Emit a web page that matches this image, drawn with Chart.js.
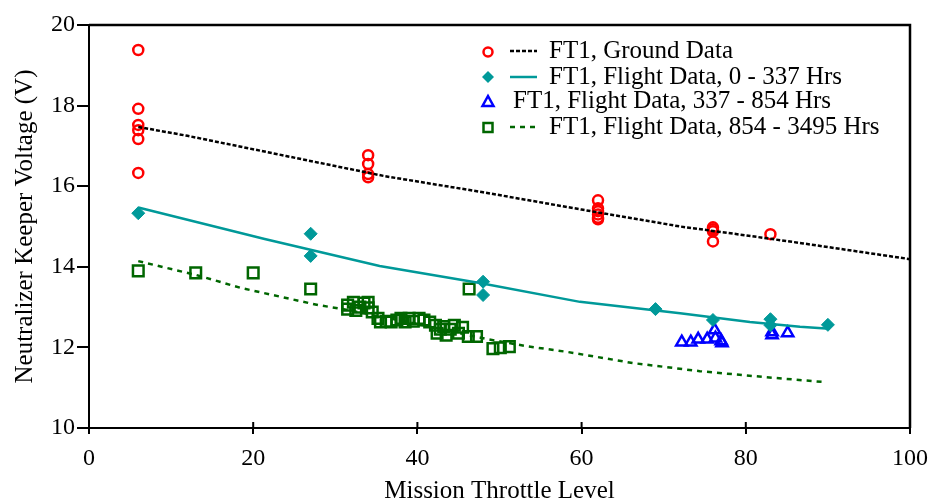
<!DOCTYPE html>
<html>
<head>
<meta charset="utf-8">
<script src="https://cdn.jsdelivr.net/npm/chart.js@4.4.1/dist/chart.umd.min.js"></script>
<style>
  html, body { margin: 0; padding: 0; background: #ffffff; }
  #wrap { width: 932px; height: 504px; }
</style>
</head>
<body>
<div id="wrap"><canvas id="c" width="932" height="504"></canvas></div>
<script>
// Ground test data (FT1)
const groundX = [6, 6, 6, 6, 6, 6, 34, 34, 34, 34, 62, 62, 62, 62, 62, 62, 76, 76, 76, 76, 83];
const groundY = [19.38, 17.92, 17.52, 17.39, 17.17, 16.33, 16.77, 16.55, 16.3, 16.22,
                 15.65, 15.45, 15.38, 15.3, 15.22, 15.18, 14.98, 14.93, 14.88, 14.63, 14.81];

// Flight data, 0 - 337 hrs
const flightAX = [6, 27, 27, 48, 48, 69, 76, 83, 83, 90];
const flightAY = [15.33, 14.82, 14.27, 13.63, 13.3, 12.95, 12.68, 12.7, 12.55, 12.56];

// Flight data, 337 - 854 hrs
const flightBX = [72.2, 73.3, 74.2, 75.3, 76.2, 76.3, 77.0, 77.1, 83.2, 83.2, 85.1];
const flightBY = [12.13, 12.13, 12.2, 12.2, 12.43, 12.23, 12.16, 12.11, 12.31, 12.38, 12.36];

// Flight data, 854 - 3495 hrs
const flightCX = [6, 13, 20, 27, 46.3,
                  31.5, 31.5, 32.2, 32.5, 33, 33.5, 34, 34, 34.5,
                  35.2, 35.5, 36.2, 36.8, 37.5, 38, 38.5, 39, 39.5, 40.2, 40.8, 41.5,
                  42.2, 42.4, 42.8, 43.2, 43.5, 44, 44.5, 45, 45.5, 46.2, 47.2,
                  49.2, 50.1, 51.2];
const flightCY = [13.9, 13.85, 13.85, 13.45, 13.45,
                  13.05, 12.95, 13.12, 12.92, 13.0, 13.1, 13.12, 12.98, 12.88,
                  12.72, 12.63, 12.65, 12.63, 12.68, 12.72, 12.63, 12.72, 12.65, 12.72, 12.68, 12.63,
                  12.55, 12.35, 12.45, 12.52, 12.3, 12.45, 12.55, 12.35, 12.5, 12.27, 12.27,
                  11.97, 11.99, 12.02];

// Trend curves
const groundFitX = [6, 12, 24, 36, 48, 60, 72, 80, 87, 100];
const groundFitY = [17.47, 17.25, 16.75, 16.25, 15.85, 15.42, 15.0, 14.78, 14.58, 14.19];
const flightAFitX = [6, 21.4, 35.4, 47.6, 59.8, 72, 80.5, 86.6, 90.2];
const flightAFitY = [15.47, 14.69, 14.02, 13.6, 13.13, 12.85, 12.63, 12.51, 12.46];
const flightCFitX = [6, 13, 18.6, 27.9, 31, 40, 48.6, 53.3, 58.2, 66.3, 74.4, 82.5, 89.6];
const flightCFitY = [14.14, 13.8, 13.47, 13.05, 12.95, 12.58, 12.2, 12.03, 11.89, 11.61, 11.41, 11.26, 11.14];

// Axis ticks
const xTicks = [0, 20, 40, 60, 80, 100];
const yTicks = [10, 12, 14, 16, 18, 20];

// Legend entries
const legendLabels = [
  'FT1, Ground Data',
  'FT1, Flight Data, 0 - 337 Hrs',
  'FT1, Flight Data, 337 - 854 Hrs',
  'FT1, Flight Data, 854 - 3495 Hrs'
];

const RED = '#ff0000', TEAL = '#009999', BLUE = '#0000ff', GREEN = '#006600';
const FONT = "'Liberation Serif', 'Times New Roman', serif";

const pts = (xs, ys) => xs.map((x, i) => ({ x: x, y: ys[i] }));

const lineSet = (xs, ys, color, width, dash) => ({
  data: pts(xs, ys),
  showLine: true,
  borderColor: color,
  borderWidth: width,
  borderDash: dash,
  pointRadius: 0,
  tension: 0,
  fill: false
});

const markerSet = (xs, ys, color, style, radius, filled, width) => ({
  data: pts(xs, ys),
  showLine: false,
  pointStyle: style,
  pointRadius: radius,
  pointBorderColor: color,
  pointBackgroundColor: filled ? color : 'rgba(0,0,0,0)',
  pointBorderWidth: width
});

// Frame (top/right border) and inner tick marks
const framePlugin = {
  id: 'frame',
  afterDraw(chart) {
    const { ctx, chartArea: a, scales } = chart;
    ctx.save();
    ctx.strokeStyle = '#000';
    ctx.lineWidth = 2.5;
    ctx.beginPath();
    ctx.moveTo(a.left, a.top);
    ctx.lineTo(a.right, a.top);
    ctx.lineTo(a.right, a.bottom);
    ctx.stroke();
    ctx.lineWidth = 2;
    ctx.beginPath();
    xTicks.forEach(v => {
      const px = scales.x.getPixelForValue(v);
      ctx.moveTo(px, a.bottom);
      ctx.lineTo(px, a.bottom - 6);
    });
    ctx.stroke();
    ctx.restore();
  }
};

// Legend: marker, line sample and label per row
const legendPlugin = {
  id: 'customLegend',
  afterDraw(chart) {
    const ctx = chart.ctx;
    const mx = 488, lx0 = 510, lx1 = 537, tx = 549;
    const rows = [51, 77, 101, 127];
    ctx.save();
    ctx.font = '25px ' + FONT;
    ctx.textBaseline = 'middle';
    ctx.fillStyle = '#000';

    // row 1: circle + dotted black
    let y = rows[0];
    ctx.strokeStyle = RED; ctx.lineWidth = 2.5;
    ctx.beginPath(); ctx.arc(mx, y + 1, 4.5, 0, Math.PI * 2); ctx.stroke();
    ctx.strokeStyle = '#000'; ctx.lineWidth = 2.5; ctx.setLineDash([4, 2]);
    ctx.beginPath(); ctx.moveTo(lx0, y); ctx.lineTo(lx1, y); ctx.stroke();
    ctx.setLineDash([]);
    ctx.fillText(legendLabels[0], tx, y);

    // row 2: diamond + solid teal
    y = rows[1];
    ctx.fillStyle = TEAL;
    ctx.beginPath();
    ctx.moveTo(mx, y - 6); ctx.lineTo(mx + 6, y); ctx.lineTo(mx, y + 6); ctx.lineTo(mx - 6, y);
    ctx.closePath(); ctx.fill();
    ctx.strokeStyle = TEAL; ctx.lineWidth = 2.5;
    ctx.beginPath(); ctx.moveTo(lx0, y); ctx.lineTo(lx1, y); ctx.stroke();
    ctx.fillStyle = '#000';
    ctx.fillText(legendLabels[1], tx, y);

    // row 3: triangle only
    y = rows[2];
    ctx.strokeStyle = BLUE; ctx.lineWidth = 2.5;
    ctx.beginPath();
    ctx.moveTo(mx, y - 5); ctx.lineTo(mx + 5.5, y + 5); ctx.lineTo(mx - 5.5, y + 5);
    ctx.closePath(); ctx.stroke();
    ctx.fillText(legendLabels[2], 513, y);

    // row 4: square + dashed green
    y = rows[3];
    ctx.strokeStyle = GREEN; ctx.lineWidth = 2.5;
    ctx.strokeRect(mx - 4.5, y - 4, 9, 9);
    ctx.lineWidth = 2.5; ctx.setLineDash([5, 5]);
    ctx.beginPath(); ctx.moveTo(lx0, y); ctx.lineTo(lx1 + 2, y); ctx.stroke();
    ctx.setLineDash([]);
    ctx.fillText(legendLabels[3], tx, y);
    ctx.restore();
  }
};

new Chart(document.getElementById('c'), {
  type: 'scatter',
  data: {
    datasets: [
      lineSet(groundFitX, groundFitY, '#000000', 2.5, [4, 2]),
      lineSet(flightAFitX, flightAFitY, TEAL, 2.5, []),
      lineSet(flightCFitX, flightCFitY, GREEN, 2.5, [5, 5]),
      markerSet(flightCX, flightCY, GREEN, 'rect', 7.5, false, 2.5),
      markerSet(flightAX, flightAY, TEAL, 'rectRot', 6.5, true, 1),
      markerSet(flightBX, flightBY, BLUE, 'triangle', 6.5, false, 2.5),
      markerSet(groundX, groundY, RED, 'circle', 5, false, 2.5)
    ]
  },
  options: {
    responsive: false,
    animation: false,
    events: [],
    layout: { padding: { top: 25, right: 22, left: 0, bottom: 0 } },
    plugins: { legend: { display: false }, tooltip: { enabled: false } },
    scales: {
      x: {
        type: 'linear', min: 0, max: 100,
        afterFit(s) { s.height = 76; s.paddingLeft = 0; s.paddingRight = 0; },
        afterBuildTicks(s) { s.ticks = xTicks.map(v => ({ value: v })); },
        grid: { display: true, drawOnChartArea: false, drawTicks: true, tickLength: 6, color: '#000', lineWidth: 2 },
        border: { display: true, color: '#000', width: 2 },
        ticks: { color: '#000', font: { family: FONT, size: 24 }, padding: 10, maxRotation: 0 },
        title: { display: true, text: 'Mission Throttle Level', color: '#000', font: { family: FONT, size: 25 }, padding: { top: 0, bottom: -2 } }
      },
      y: {
        type: 'linear', min: 10, max: 20,
        afterFit(s) { s.width = 89; },
        afterBuildTicks(s) { s.ticks = yTicks.map(v => ({ value: v })); },
        grid: { display: true, drawOnChartArea: false, drawTicks: true, tickLength: 12, color: '#000', lineWidth: 2 },
        border: { display: true, color: '#000', width: 2 },
        ticks: { color: '#000', font: { family: FONT, size: 24 }, padding: 2 },
        title: { display: true, text: 'Neutralizer Keeper Voltage (V)', color: '#000', font: { family: FONT, size: 25 }, padding: { top: 10, bottom: 0 } }
      }
    }
  },
  plugins: [framePlugin, legendPlugin]
});
</script>
</body>
</html>
